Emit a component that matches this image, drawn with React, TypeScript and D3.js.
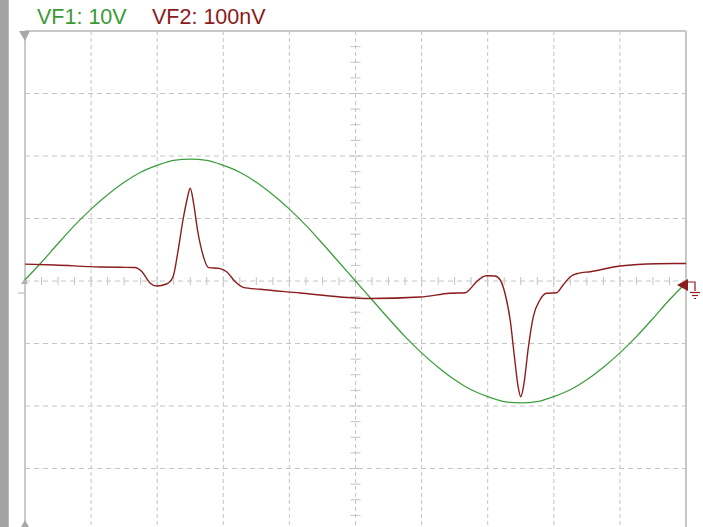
import React from "react";
import * as d3 from "d3";

// Time axis in divisions (10 horizontal divisions)
const greenTime = [0,0.25,0.5,0.75,1,1.25,1.5,1.75,2,2.25,2.5,2.75,3,3.25,3.5,3.75,4,4.25,4.5,4.75,5,5.25,5.5,5.75,6,6.25,6.5,6.75,7,7.25,7.5,7.75,8,8.25,8.5,8.75,9,9.25,9.5,9.75,10];
// VF1 in volts (10 V/div)
const greenVolts = [0.2,3.0,6.0,8.9,11.5,13.8,15.8,17.4,18.5,19.3,19.5,19.3,18.5,17.4,15.8,13.8,11.5,8.9,6.0,3.0,0,-3.0,-6.0,-8.9,-11.5,-13.8,-15.8,-17.4,-18.5,-19.3,-19.5,-19.3,-18.5,-17.4,-15.8,-13.8,-11.5,-8.9,-6.0,-3.0,-0.3];

const redTime = [0,0.45,1.13,1.44,1.66,1.77,1.89,1.99,2.14,2.24,2.31,2.39,2.45,2.5,2.55,2.61,2.7,2.77,2.95,3.05,3.18,3.3,3.56,4.16,4.77,5.22,5.98,6.43,6.66,6.73,6.83,6.98,7.11,7.19,7.26,7.34,7.41,7.46,7.5,7.55,7.61,7.69,7.79,7.89,8.04,8.14,8.25,8.37,8.55,9.0,9.56,10];
// VF2 in nV (100 nV/div)
const redNanoVolts = [27,25.6,22.4,21.9,21.6,14.9,-3.2,-8,-4.8,6.9,44.8,97.6,129.6,148.3,124.8,81.6,38.9,21.9,19.7,14.9,-1.1,-10.1,-13.3,-19.2,-25.6,-28,-25.6,-19.7,-18.7,-13.3,-1.1,8.5,8,1.6,-19.2,-62.4,-126.4,-169.1,-185.1,-163.2,-110.4,-57.1,-30.4,-19.7,-18.7,-6.4,6.9,12.3,14.9,24,27.7,28];

const labels = ["VF1: 10V", "VF2: 100nV"];
const voltsPerDiv = [10, 100];
const xDivs = d3.range(0, 11);
const yDivs = d3.range(-4, 5);

const W = 703, H = 527;
const L = 25, R = 686, T = 31, B = 531;

export default function App() {
  const x = d3.scaleLinear().domain([0, 10]).range([L, R]);
  const y = d3.scaleLinear().domain([-4, 4]).range([B, T]);
  const cx = x(5), cy = y(0);

  const greenLine = d3.line<number>()
    .x((_, i) => x(greenTime[i]))
    .y((d) => y(d / voltsPerDiv[0]))
    .curve(d3.curveMonotoneX)(greenVolts);
  const redLine = d3.line<number>()
    .x((_, i) => x(redTime[i]))
    .y((d) => y(d / voltsPerDiv[1]))
    .curve(d3.curveMonotoneX)(redNanoVolts);

  const minorX = d3.range(0, 10.01, 0.25);
  const minorY = d3.range(-4, 4.01, 0.25);
  const grid = "#c4c4c4";

  return (
    <svg width={W} height={H} style={{ position: "absolute", left: 0, top: 0, background: "#fff" }}
      fontFamily="'Liberation Sans', Arial, sans-serif">
      <rect x={0} y={0} width={W} height={H} fill="#fff" />
      <rect x={0} y={0} width={9} height={H} fill="#a2a2a2" />
      <rect x={8} y={0} width={1} height={H} fill="#b8b8b8" />

      {xDivs.filter((d) => d > 0 && d < 10).map((d) => (
        <line key={"vx" + d} x1={x(d)} x2={x(d)} y1={T} y2={H} stroke={grid} strokeDasharray="4,3" />
      ))}
      {yDivs.filter((d) => d > -4 && d < 4).map((d) => (
        <line key={"hy" + d} x1={L} x2={R} y1={y(d)} y2={y(d)} stroke={grid} strokeDasharray="5,4" />
      ))}
      {minorX.map((d) => (
        <line key={"mx" + d} x1={x(d)} x2={x(d)} y1={cy - 4} y2={cy + 4} stroke={grid} />
      ))}
      {minorY.map((d) => (
        <line key={"my" + d} x1={cx - 5} x2={cx + 5} y1={y(d)} y2={y(d)} stroke={grid} />
      ))}

      <line x1={L} x2={R} y1={T} y2={T} stroke="#c8c8c8" strokeWidth={2} />
      <line x1={L} x2={L} y1={T} y2={H} stroke="#cacaca" strokeWidth={2} />
      <line x1={R} x2={R} y1={T} y2={H} stroke="#c8c8c8" strokeWidth={2} />

      <path d={`M${L - 6},${T} L${L + 5},${T} L${L},${T + 10} Z`} fill="#a8a8a8" />
      <path d={`M${L - 4},${H} L${L + 4},${H} L${L},${H - 7} Z`} fill="#a8a8a8" />
      <path d={`M${L - 4},${cy + 3} L${L + 3},${cy + 3} L${L},${cy - 3} Z`} fill="#b0b0b0" />
      <line x1={L - 7} x2={L} y1={cy + 12} y2={cy + 12} stroke="#b0b0b0" />

      <path d={greenLine || ""} fill="none" stroke="#3c9f3c" strokeWidth={1.3} />
      <path d={redLine || ""} fill="none" stroke="#8c1c1c" strokeWidth={1.4} />

      <path d={`M${R - 9},${cy + 4} L${R + 2},${cy - 2} L${R + 2},${cy + 10} Z`} fill="#8c1c1c" />
      <g stroke="#8c1c1c" strokeWidth={1.2} fill="none">
        <polyline points={`${R},${cy + 1} ${R + 9},${cy + 1} ${R + 9},${cy + 10}`} />
        <line x1={R + 4} x2={R + 14} y1={cy + 11.5} y2={cy + 11.5} />
        <line x1={R + 6} x2={R + 12} y1={cy + 14.5} y2={cy + 14.5} />
        <line x1={R + 8} x2={R + 10} y1={cy + 17.5} y2={cy + 17.5} />
      </g>

      <text x={37} y={24} fontSize={21.5} fill="#3a9a35">{labels[0]}</text>
      <text x={152} y={24} fontSize={21.5} fill="#8b1a1a">{labels[1]}</text>
    </svg>
  );
}
